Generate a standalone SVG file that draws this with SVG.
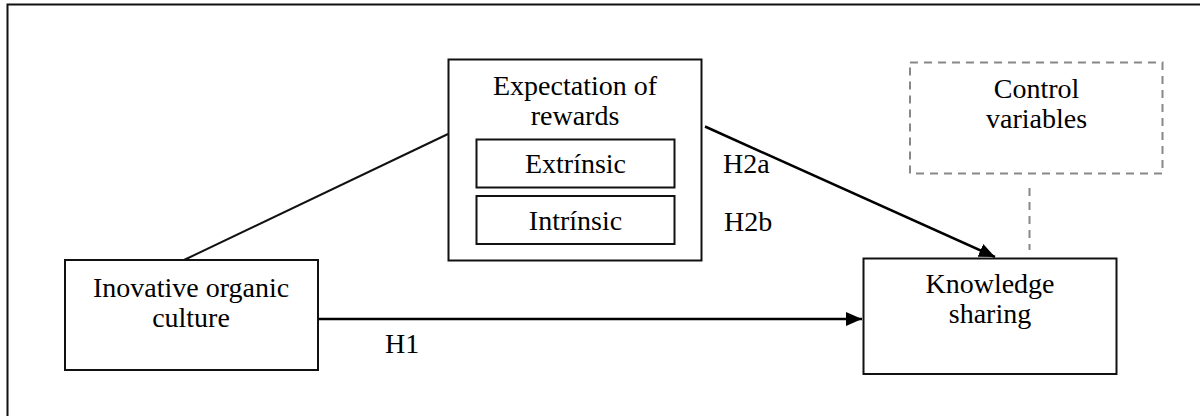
<svg xmlns="http://www.w3.org/2000/svg" width="1200" height="416" viewBox="0 0 1200 416">
<style>
text{font-family:"Liberation Serif","Times New Roman",serif;font-size:28px;fill:#000}
.c{text-anchor:middle}
.box{fill:#fff;stroke:#111;stroke-width:2}
.dash{fill:none;stroke:#888;stroke-width:2;stroke-dasharray:8 6}
.ln{fill:none;stroke:#111;stroke-width:2}
.ar{fill:none;stroke:#000;stroke-width:2.5}
</style>
<defs>
<marker id="arr" viewBox="0 0 16 14" refX="16" refY="7" markerWidth="16" markerHeight="14" markerUnits="userSpaceOnUse" orient="auto">
<path d="M0,0 L16,7 L0,14 z" fill="#000"/>
</marker>
</defs>
<rect x="7.5" y="4.5" width="1210" height="430" fill="none" stroke="#111" stroke-width="2"/>
<g id="connectors">
<line class="ln" x1="184" y1="260" x2="448" y2="134"/>
<line class="ar" x1="705" y1="126.5" x2="995" y2="257" marker-end="url(#arr)"/>
<line class="ar" x1="319" y1="319" x2="862" y2="319" marker-end="url(#arr)"/>
<line class="dash" x1="1029.5" y1="188" x2="1029.5" y2="250"/>
<text x="723" y="173">H2a</text>
<text x="724" y="231">H2b</text>
<text x="385" y="353">H1</text>
</g>
<g id="expectation">
<rect class="box" x="448.5" y="59.5" width="253" height="201"/>
<text class="c" x="575" y="95">Expectation of</text>
<text class="c" x="575" y="125">rewards</text>
</g>
<g id="extrinsic">
<rect class="box" x="476.5" y="139.5" width="198" height="48"/>
<text class="c" x="575.5" y="173">Extrínsic</text>
</g>
<g id="intrinsic">
<rect class="box" x="476.5" y="196" width="198" height="48"/>
<text class="c" x="575.5" y="230">Intrínsic</text>
</g>
<g id="control">
<rect class="dash" x="910" y="62.5" width="252.5" height="111"/>
<text class="c" x="1036.5" y="98">Control</text>
<text class="c" x="1036.5" y="128">variables</text>
</g>
<g id="culture">
<rect class="box" x="65" y="260" width="253" height="110"/>
<text class="c" x="191" y="296.5">Inovative organic</text>
<text class="c" x="191" y="326.5">culture</text>
</g>
<g id="knowledge">
<rect class="box" x="863.5" y="258.5" width="253" height="115.5"/>
<text class="c" x="990" y="293">Knowledge</text>
<text class="c" x="990" y="323">sharing</text>
</g>
</svg>
